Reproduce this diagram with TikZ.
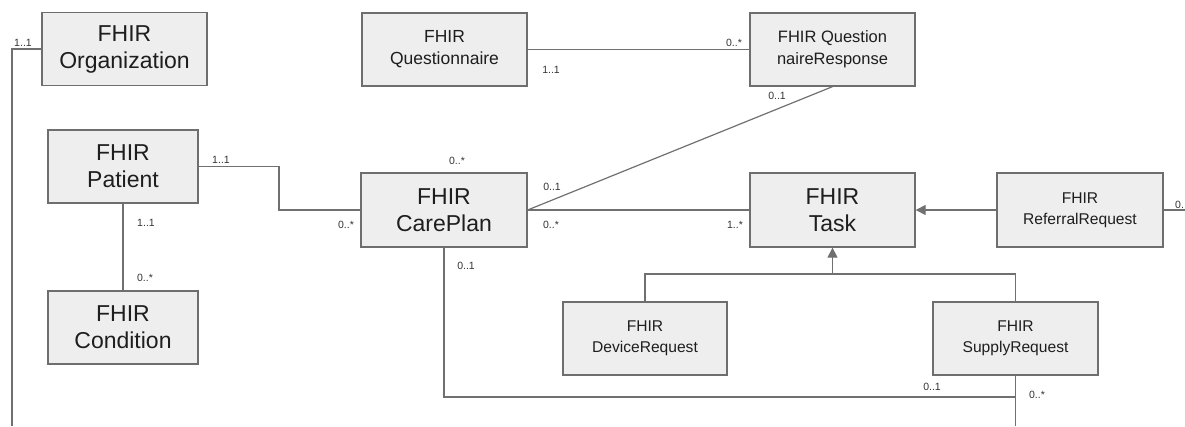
\documentclass[tikz,border=0pt]{standalone}
\usepackage{fontspec}
\setmainfont{Liberation Sans}
\usetikzlibrary{arrows.meta}
\definecolor{boxfill}{HTML}{EEEEEE}
\definecolor{boxline}{HTML}{6E6E6E}
\definecolor{wire}{HTML}{707070}
\definecolor{txt}{HTML}{1E1E1E}
\definecolor{lbl}{HTML}{333333}
\tikzset{
  cls/.style={draw=boxline, fill=boxfill, line width=1.3pt, align=center, text=txt, inner sep=0pt},
  big/.style={cls, minimum width=#1, minimum height=73pt, font=\fontsize{23}{27}\selectfont},
  mid/.style={cls, minimum width=165pt, minimum height=73pt, font=\fontsize{17.5}{22}\selectfont},
  small/.style={cls, minimum width=165pt, minimum height=73pt, font=\fontsize{15.6}{21}\selectfont},
  wirestyle/.style={draw=wire, line width=1.2pt},
  mult/.style={text=lbl, font=\fontsize{10.5}{12}\selectfont, inner sep=0pt},
  gen/.style={-{Triangle[length=10pt,width=10pt]}, wire, line width=1.2pt}
}
\begin{document}
\begin{tikzpicture}[x=1pt,y=-1pt]
\useasboundingbox (0,0) rectangle (1185,426);
% classes
\node[big=165pt] (org) at (124.5,49) {FHIR\\Organization};
\node[mid] (qst) at (444.5,49.5) {FHIR\\Questionnaire};
\node[cls, minimum width=165pt, minimum height=73pt, font=\fontsize{16.5}{22}\selectfont] (qr) at (832.5,49.5) {FHIR Question\\naireResponse};
\node[big=150pt] (pat) at (123,166.5) {FHIR\\Patient};
\node[big=150pt] (cond) at (123,327.5) {FHIR\\Condition};
\node[big=166pt, minimum height=74pt] (cp) at (444,210) {FHIR\\CarePlan};
\node[big=165pt, minimum height=74pt] (task) at (832.5,210) {FHIR\\Task};
\node[small, minimum width=166pt, minimum height=74pt] (ref) at (1080,210) {FHIR\\ReferralRequest};
\node[small, minimum width=164pt] (dev) at (645,338.5) {FHIR\\DeviceRequest};
\node[small] (sup) at (1015.5,338.5) {FHIR\\SupplyRequest};
% free ends
\coordinate (orgend) at (12,426);
\coordinate (supend) at (1015.5,426);
\coordinate (refend) at (1185,210);
\coordinate (genjoin) at (832.5,274);
\coordinate (cpcorner) at (444,397);
\coordinate (cpend) at (1015.5,397);
% connectors
\draw[wirestyle] (org.west) -- (12,49) -- (orgend);
\draw[wirestyle] (qst.east) -- (qr.west);
\draw[wirestyle] (qr.south) -- (cp.east);
\draw[wirestyle] (pat.east) -- (279,166.5) |- (cp.west);
\draw[wirestyle] (pat.south) -- (cond.north);
\draw[wirestyle] (cp.east) -- (task.west);
\draw[gen] (ref.west) -- (task.east);
\draw[wirestyle] (dev.north) |- (genjoin) -| (sup.north);
\draw[gen] (genjoin) -- (task.south);
\draw[wirestyle] (cp.south) -- (cpcorner) -- (cpend);
\draw[wirestyle] (sup.south) -- (supend);
\draw[wirestyle] (ref.east) -- (refend);
% multiplicities
\node[mult] (m1) at (23,43) {1..1};
\node[mult] (m2) at (551,70) {1..1};
\node[mult] (m3) at (734,43) {0..*};
\node[mult] (m4) at (777,96) {0..1};
\node[mult] (m5) at (221,160) {1..1};
\node[mult] (m6) at (146,223) {1..1};
\node[mult] (m7) at (145,278) {0..*};
\node[mult] (m8) at (457,161) {0..*};
\node[mult] (m9) at (552,187) {0..1};
\node[mult] (m10) at (551,225) {0..*};
\node[mult] (m11) at (346,225) {0..*};
\node[mult] (m12) at (466,266) {0..1};
\node[mult] (m13) at (735,225) {1..*};
\node[mult, anchor=west] (m14) at (1175,205) {0.};
\node[mult] (m15) at (932,387) {0..1};
\node[mult] (m16) at (1037,395) {0..*};
\end{tikzpicture}
\end{document}
